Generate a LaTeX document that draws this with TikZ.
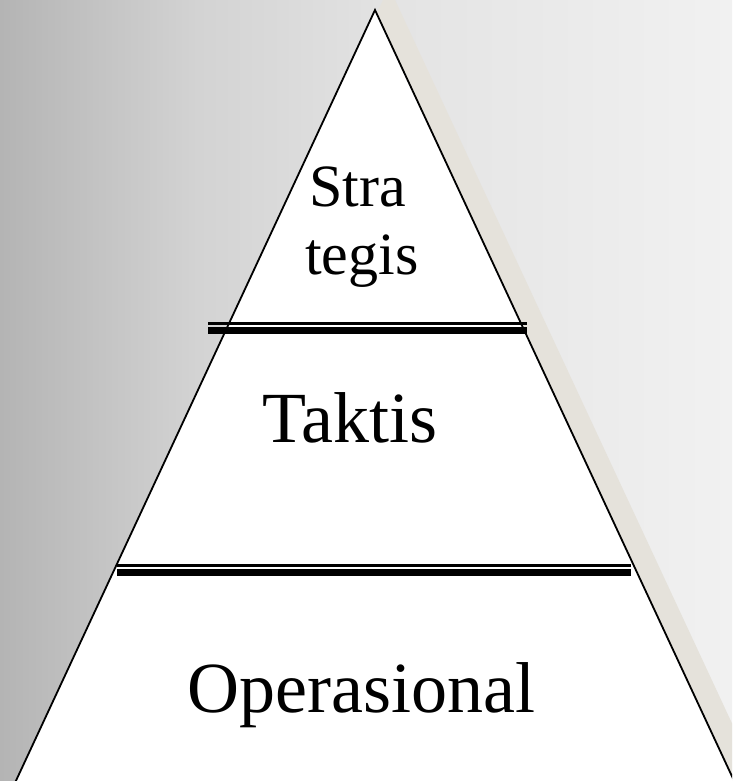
\documentclass[tikz,border=0pt]{standalone}
\usepackage{fontspec}
\setmainfont{Liberation Serif}
\definecolor{bgA}{RGB}{180,180,180}
\definecolor{bgB}{RGB}{211,211,211}
\definecolor{bgC}{RGB}{228,228,228}
\definecolor{bgD}{RGB}{241,241,241}
\definecolor{shadowc}{RGB}{229,226,219}
\pgfdeclarehorizontalshading{bgshade}{100bp}{color(0bp)=(bgA); color(25bp)=(bgA); color(38.5bp)=(bgB); color(52.5bp)=(bgC); color(75bp)=(bgD); color(100bp)=(bgD)}
\tikzset{
  label60/.style={anchor=base west, inner sep=0pt, font=\fontsize{60}{70}\selectfont},
  label72/.style={anchor=base west, inner sep=0pt, font=\fontsize{72}{80}\selectfont},
  thinrule/.style={line width=2.6pt, line cap=butt},
  thickrule/.style={line width=7pt, line cap=butt},
  pyramid/.style={draw=black, line width=1.8pt, fill=white, line join=miter}
}
\begin{document}
\begin{tikzpicture}[x=1pt,y=-1pt]
\useasboundingbox (0,0) rectangle (732,781);
\shade[shading=bgshade] (0,0) rectangle (732,781);
\coordinate (apex) at (375,10);
\coordinate (bl) at (7,800);
\coordinate (br) at (743,800);
\begin{scope}
\clip (0,0) rectangle (732,781);
\fill[shadowc, shift={(14,-23)}] (375,10) -- (7,800) -- (743,800) -- cycle;
\draw[pyramid] (apex) -- (bl) -- (br) -- cycle;
\end{scope}
% rules
\coordinate (r1a) at (208,323.6); \coordinate (r1b) at (527,323.6);
\coordinate (r1c) at (208,330.8); \coordinate (r1d) at (527,330.8);
\coordinate (r2a) at (117,565.2); \coordinate (r2b) at (631,565.2);
\coordinate (r2c) at (117,572.6); \coordinate (r2d) at (631,572.6);
\draw[thinrule] (r1a) -- (r1b);
\draw[thickrule] (r1c) -- (r1d);
\draw[thinrule] (r2a) -- (r2b);
\draw[thickrule] (r2c) -- (r2d);
% labels
\node[label60] (stra) at (309,206) {Stra};
\node[label60] (tegis) at (305,274) {tegis};
\node[label72] (taktis) at (262,442) {Taktis};
\node[label72] (oper) at (187,712) {Operasional};
\end{tikzpicture}
\end{document}
